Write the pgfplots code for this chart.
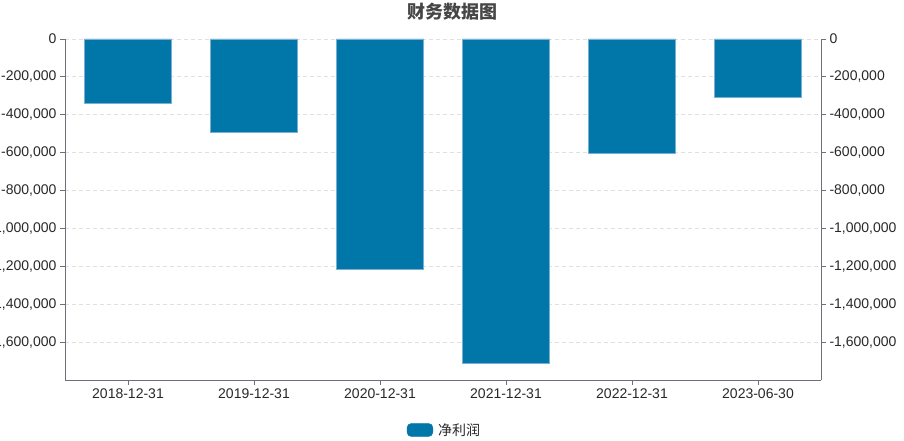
\documentclass[border=0pt]{standalone}
\usepackage{pgfplots}
\pgfplotsset{compat=1.18}
\usepackage{fontspec}
\setmainfont{Liberation Sans}
\newfontfamily\cjk{Noto Sans CJK SC}
\definecolor{barblue}{RGB}{0,119,168}
\definecolor{baredge}{RGB}{120,175,210}
\definecolor{axgray}{RGB}{110,112,121}
\definecolor{gridgray}{RGB}{224,224,224}
\definecolor{titlegray}{RGB}{70,70,70}
\definecolor{labelgray}{RGB}{40,40,40}

\pgfplotstableread{
x y
0 -341000
1 -493000
2 -1214000
3 -1710000
4 -604000
5 -308000
}\netprofit

\begin{document}
\begin{tikzpicture}
\clip (0pt,0pt) rectangle (904pt,441pt);
\begin{axis}[
  at={(65pt,61pt)}, anchor=south west,
  scale only axis, width=756pt, height=341pt,
  xmin=-0.5, xmax=5.5, ymin=-1800000, ymax=0,
  axis x line*=bottom, axis y line*=left,
  axis line style={axgray, line width=0.8pt, -},
  every tick/.style={axgray, line width=0.8pt},
  tick align=outside, major tick length=5pt,
  xtick={0,1,2,3,4,5},
  xticklabels={2018-12-31,2019-12-31,2020-12-31,2021-12-31,2022-12-31,2023-06-30},
  ytick={0,-200000,-400000,-600000,-800000,-1000000,-1200000,-1400000,-1600000},
  yticklabels={0,{-200,000},{-400,000},{-600,000},{-800,000},{-1,000,000},{-1,200,000},{-1,400,000},{-1,600,000}},
  scaled y ticks=false,
  ticklabel style={font=\fontsize{14}{16}\selectfont, text=labelgray},
  ymajorgrids, grid style={dashed, gridgray, line width=0.8pt, dash pattern=on 4pt off 3pt},
  legend style={at={(0.452,-0.1466)}, anchor=west, draw=none, fill=none,
    inner xsep=0pt, inner ysep=0pt,
    font=\cjk\fontsize{14}{16}\selectfont, text=labelgray},
]
\addplot[ybar, bar width=87pt, fill=barblue, draw=baredge, line width=0.5pt,
  legend image code/.code={\fill[barblue, rounded corners=4pt] (0pt,-6.4pt) rectangle (25.6pt,6.4pt);}]
  table[x=x, y=y] {\netprofit};
\addlegendentry{\hspace{3pt}净利润}
\end{axis}
\begin{axis}[
  at={(65pt,61pt)}, anchor=south west,
  scale only axis, width=756pt, height=341pt,
  xmin=-0.5, xmax=5.5, ymin=-1800000, ymax=0,
  axis x line=none, axis y line*=right,
  axis line style={axgray, line width=0.8pt, -},
  every tick/.style={axgray, line width=0.8pt},
  tick align=outside, major tick length=5pt,
  ytick={0,-200000,-400000,-600000,-800000,-1000000,-1200000,-1400000,-1600000},
  yticklabels={0,{-200,000},{-400,000},{-600,000},{-800,000},{-1,000,000},{-1,200,000},{-1,400,000},{-1,600,000}},
  scaled y ticks=false,
  ticklabel style={font=\fontsize{14}{16}\selectfont, text=labelgray},
]
\end{axis}
\node[font=\cjk\bfseries\fontsize{18}{20}\selectfont, text=titlegray] at (452pt,429pt) {财务数据图};
\end{tikzpicture}
\end{document}
